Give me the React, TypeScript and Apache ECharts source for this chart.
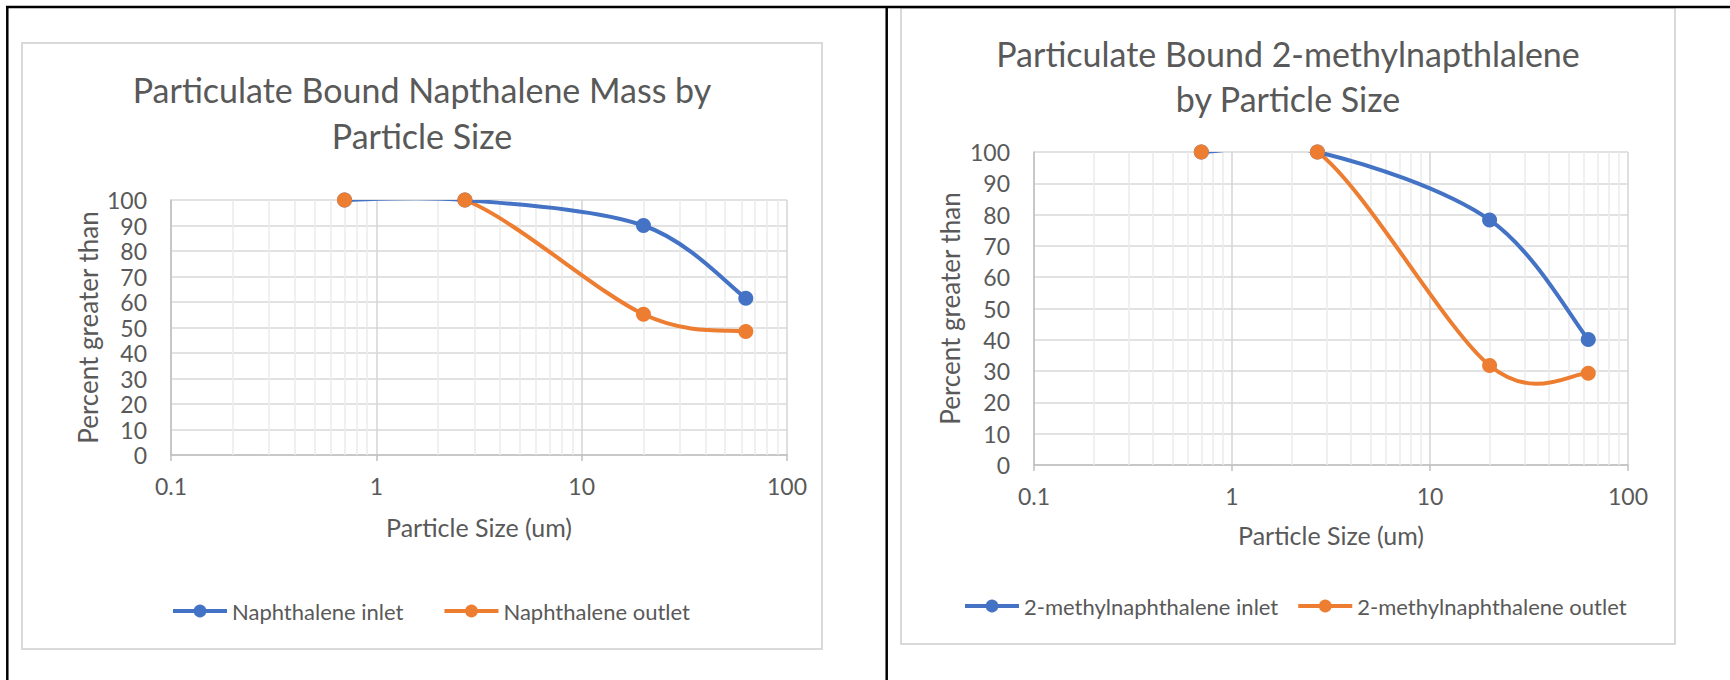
import React, { useEffect, useRef } from "react";
import * as echarts from "echarts";

const particleSizes = [0.7, 2.7, 20, 63];
const naphInlet = [100, 100, 90, 61.5];
const naphOutlet = [100, 100, 55.2, 48.4];
const methylInlet = [100, 100, 78.3, 40.1];
const methylOutlet = [100, 100, 31.8, 29.3];
const minorXTicks = [0.2, 0.3, 0.4, 0.5, 0.6, 0.7, 0.8, 0.9, 2, 3, 4, 5, 6, 7, 8, 9, 20, 30, 40, 50, 60, 70, 80, 90];

const leftTitle = ["Particulate Bound Napthalene Mass by", "Particle Size"];
const rightTitle = ["Particulate Bound 2-methylnapthlalene", "by Particle Size"];
const seriesNames = ["Naphthalene inlet", "Naphthalene outlet", "2-methylnaphthalene inlet", "2-methylnaphthalene outlet"];
const xAxisTitle = "Particle Size (um)";
const yAxisTitle = "Percent greater than";

const FONT = "Lato";
const TXT = "#595959";
const BLUE = "#4472C4";
const ORANGE = "#ED7D31";

const pairs = (vals: number[]) => particleSizes.map((s, i) => [s, vals[i]]);

export default function App() {
  const ref = useRef<HTMLDivElement>(null);
  useEffect(() => {
    if (!ref.current) return;
    const chart = echarts.init(ref.current, undefined, { renderer: "svg" });

    const mkX = (gridIndex: number, gap: number) => ({
      type: "log",
      gridIndex,
      logBase: 10,
      min: 0.1,
      max: 100,
      name: xAxisTitle,
      nameLocation: "middle",
      nameGap: gap,
      nameTextStyle: { fontFamily: FONT, fontSize: 25, color: TXT },
      axisLine: { show: true, onZero: false, lineStyle: { color: "#BFBFBF", width: 1.5 } },
      axisTick: { show: true, length: 6, lineStyle: { color: "#BFBFBF", width: 1.5 } },
      axisLabel: { fontFamily: FONT, fontSize: 23, color: TXT, margin: 19, formatter: (v: number) => String(v) },
      splitLine: { show: true, lineStyle: { color: "#D4D4D4", width: 1.5 } },
    });
    const mkY = (gridIndex: number, gap: number) => ({
      type: "value",
      gridIndex,
      min: 0,
      max: 100,
      interval: 10,
      name: yAxisTitle,
      nameLocation: "middle",
      nameGap: gap,
      nameTextStyle: { fontFamily: FONT, fontSize: 26, color: TXT },
      axisLine: { show: true, lineStyle: { color: "#BFBFBF", width: 1.5 } },
      axisTick: { show: false },
      axisLabel: { fontFamily: FONT, fontSize: 23, color: TXT, margin: 24 },
      splitLine: { show: true, lineStyle: { color: "#D9D9D9", width: 1.5 } },
    });

    const minorLines = {
      silent: true,
      z: 1,
      symbol: ["none", "none"],
      label: { show: false },
      lineStyle: { color: "#EBEBEB", width: 1.5, type: "solid" },
      emphasis: { disabled: true },
      data: minorXTicks.map((v) => ({ xAxis: v })),
    };

    // markers (and legend entries); the smooth connecting curve is drawn by a custom series
    const mkMarkers = (name: string, vals: number[], color: string, idx: number, withMinor: boolean) => ({
      name,
      type: "line",
      xAxisIndex: idx,
      yAxisIndex: idx,
      data: pairs(vals),
      symbol: "circle",
      symbolSize: 15,
      z: 4,
      lineStyle: { color, width: 0, opacity: 0 },
      itemStyle: { color },
      emphasis: { disabled: true },
      ...(withMinor ? { markLine: minorLines } : {}),
    });

    // Excel-style (Catmull-Rom) smoothed line through the data points, using the axes' own coord()
    const mkCurve = (vals: number[], color: string, idx: number, z: number) => ({
      type: "custom",
      xAxisIndex: idx,
      yAxisIndex: idx,
      data: pairs(vals),
      encode: { x: 0, y: 1 },
      clip: true,
      silent: true,
      z,
      renderItem: (params: any, api: any) => {
        const n = particleSizes.length;
        const i = params.dataIndex;
        if (i >= n - 1) return { type: "group", children: [] };
        const c = (k: number) => {
          const kk = Math.max(0, Math.min(n - 1, k));
          return api.coord([particleSizes[kk], vals[kk]]);
        };
        const p0 = c(i - 1), p1 = c(i), p2 = c(i + 1), p3 = c(i + 2);
        return {
          type: "bezierCurve",
          shape: {
            x1: p1[0], y1: p1[1], x2: p2[0], y2: p2[1],
            cpx1: p1[0] + (p2[0] - p0[0]) / 6, cpy1: p1[1] + (p2[1] - p0[1]) / 6,
            cpx2: p2[0] - (p3[0] - p1[0]) / 6, cpy2: p2[1] - (p3[1] - p1[1]) / 6,
          },
          style: { stroke: color, lineWidth: 4, fill: "none", lineCap: "round" },
        };
      },
    });

    const legendText = { fontFamily: FONT, fontSize: 22, color: TXT };
    const legendLine = { width: 4, opacity: 1 };

    const titleText = (x: number, y: number, t: string) => ({
      type: "text",
      x,
      y,
      style: { text: t, textAlign: "center", textVerticalAlign: "middle", fontFamily: FONT, fontWeight: 400, fontSize: 34, fill: TXT },
    });

    chart.setOption({
      animation: false,
      textStyle: { fontFamily: FONT },
      grid: [
        { left: 171, top: 200, width: 616, height: 255, containLabel: false },
        { left: 1034, top: 152, width: 594, height: 313, containLabel: false },
      ],
      xAxis: [mkX(0, 59), mkX(1, 57)],
      yAxis: [mkY(0, 70), mkY(1, 71)],
      legend: [
        {
          left: 166,
          top: 595,
          itemWidth: 54,
          itemHeight: 16,
          itemGap: 39,
          textStyle: legendText,
          lineStyle: legendLine,
          data: [seriesNames[0], seriesNames[1]],
        },
        {
          left: 958,
          top: 590,
          itemWidth: 54,
          itemHeight: 16,
          itemGap: 18,
          textStyle: legendText,
          lineStyle: legendLine,
          data: [seriesNames[2], seriesNames[3]],
        },
      ],
      series: [
        mkCurve(naphOutlet, ORANGE, 0, 2),
        mkCurve(naphInlet, BLUE, 0, 3),
        mkCurve(methylOutlet, ORANGE, 1, 2),
        mkCurve(methylInlet, BLUE, 1, 3),
        mkMarkers(seriesNames[0], naphInlet, BLUE, 0, true),
        mkMarkers(seriesNames[1], naphOutlet, ORANGE, 0, false),
        mkMarkers(seriesNames[2], methylInlet, BLUE, 1, true),
        mkMarkers(seriesNames[3], methylOutlet, ORANGE, 1, false),
      ],
      graphic: [
        { type: "rect", shape: { x: 22, y: 43, width: 800, height: 606 }, style: { fill: "none", stroke: "#D9D9D9", lineWidth: 2 } },
        { type: "rect", shape: { x: 901, y: 8, width: 774, height: 636 }, style: { fill: "none", stroke: "#D9D9D9", lineWidth: 2 } },
        { type: "line", shape: { x1: 6, y1: 7, x2: 1730, y2: 7 }, style: { stroke: "#000", lineWidth: 2.5 } },
        { type: "line", shape: { x1: 7.3, y1: 6, x2: 7.3, y2: 680 }, style: { stroke: "#000", lineWidth: 2.5 } },
        { type: "line", shape: { x1: 886.7, y1: 6, x2: 886.7, y2: 680 }, style: { stroke: "#000", lineWidth: 2.5 } },
        titleText(422, 89, leftTitle[0]),
        titleText(422, 135, leftTitle[1]),
        titleText(1288, 53, rightTitle[0]),
        titleText(1288, 98, rightTitle[1]),
      ],
    });
    return () => chart.dispose();
  }, []);
  return <div ref={ref} style={{ position: "absolute", left: 0, top: 0, width: 1730, height: 680 }} />;
}
